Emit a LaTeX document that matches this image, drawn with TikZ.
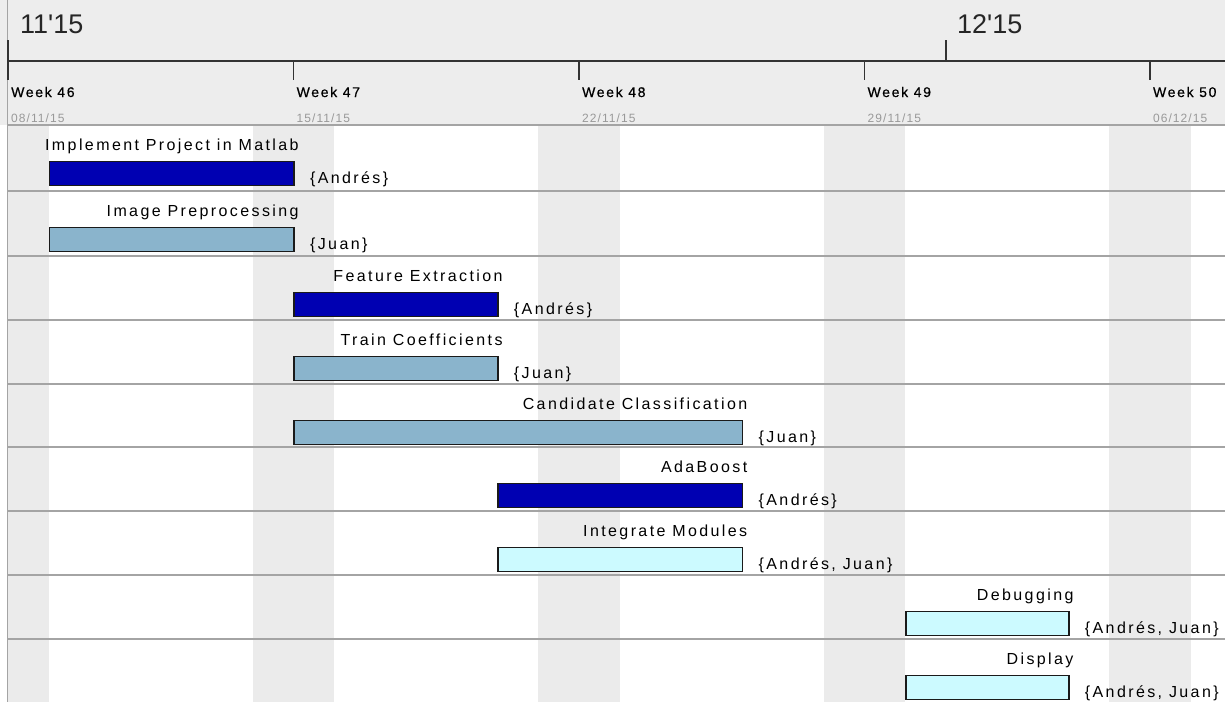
\documentclass[tikz,border=0pt]{standalone}
\usepackage{fontspec}
\setmainfont{Liberation Sans}
\newfontfamily\taskfont[LetterSpace=15]{Liberation Sans}
\newfontfamily\weekfont[LetterSpace=12,FakeBold=0.6]{Liberation Sans}
\newfontfamily\datefont[LetterSpace=9]{Liberation Sans}
\newfontfamily\monthfont[Ligatures=TeXOff]{Liberation Sans}
\usetikzlibrary{calc}
\definecolor{headerbg}{HTML}{EDEDED}
\definecolor{weekendbg}{HTML}{EBEBEB}
\definecolor{rowline}{HTML}{A4A4A4}
\definecolor{axisc}{HTML}{333333}
\definecolor{datec}{HTML}{999999}
\definecolor{barDark}{RGB}{0,0,178}
\definecolor{barSteel}{RGB}{138,180,204}
\definecolor{barCyan}{RGB}{204,250,255}
\definecolor{barEdge}{HTML}{1A1A1A}
\tikzset{
  taskbar/.style={draw=barEdge, line width=1.4pt, inner sep=0pt, minimum height=24pt, anchor=north west},
  tasklabel/.style={anchor=base east, inner sep=0pt, font=\taskfont\fontsize{16}{18}\selectfont, text=black},
  reslabel/.style={anchor=base west, inner sep=0pt, font=\taskfont\fontsize{16}{18}\selectfont, text=black},
  weeklabel/.style={anchor=base west, inner sep=0pt, font=\weekfont\fontsize{14}{16}\selectfont, text=black},
  datelabel/.style={anchor=base west, inner sep=0pt, font=\datefont\fontsize{12}{14}\selectfont, text=datec},
  monthlabel/.style={anchor=base west, inner sep=0pt, font=\monthfont\fontsize{27}{30}\selectfont, text=black!85},
  sepline/.style={draw=rowline, line width=1.3pt},
  axisline/.style={draw=axisc, line width=1.4pt}
}
\newcommand\gtask[7]{%
  \node[taskbar, fill=#5, minimum width={(#3-#2)*40.78pt}] (#1) at ({8+#2*40.78}, {#4+35.5}) {};
  \node[tasklabel] (#1-name) at ($(#1.north east)+(4,-10)$) {#6};
  \node[reslabel] (#1-res) at ($(#1.south east)+(15,-2)$) {#7};
}
\begin{document}
\begin{tikzpicture}[x=1pt,y=-1pt]
\useasboundingbox (0,0) rectangle (1225,702);
\fill[white] (0,0) rectangle (1225,702);
% header
\fill[headerbg] (0,0) rectangle (1225,125);
% weekends
\foreach \a/\b in {0/1,6/8,13/15,20/22,27/29}
  \fill[weekendbg] ({8+\a*40.78},126) rectangle ({8+\b*40.78},702);
% left border
\draw[draw=rowline, line width=1pt] (7.5,0) -- (7.5,702);
% header bottom and row separators
\foreach \y in {125,191,256,320,384,447,511,575,639}
  \draw[sepline] (8,\y) -- (1225,\y);
% axis
\coordinate (axL) at (8,61);
\coordinate (axR) at (1225,61);
\draw[axisline] (axL) -- (axR);
\draw[axisline] (8,40) -- (8,80);
\draw[axisline] ({8+23*40.78},40) -- ({8+23*40.78},61);
\foreach \w in {7,14,21,28}
  \draw[axisline] ({8+\w*40.78},61) -- ({8+\w*40.78},80);
\node[weeklabel] (w46) at (11,97) {Week 46};
\node[weeklabel] (w47) at ({11+7*40.78},97) {Week 47};
\node[weeklabel] (w48) at ({11+14*40.78},97) {Week 48};
\node[weeklabel] (w49) at ({11+21*40.78},97) {Week 49};
\node[weeklabel] (w50) at ({11+28*40.78},97) {Week 50};
\node[datelabel] (d46) at (11,122) {08/11/15};
\node[datelabel] (d47) at ({11+7*40.78},122) {15/11/15};
\node[datelabel] (d48) at ({11+14*40.78},122) {22/11/15};
\node[datelabel] (d49) at ({11+21*40.78},122) {29/11/15};
\node[datelabel] (d50) at ({11+28*40.78},122) {06/12/15};
\node[monthlabel] (m11) at (20,33) {11'15};
\node[monthlabel] (m12) at (957,33) {12'15};
% tasks
\gtask{impl}{1}{7}{125}{barDark}{Implement Project in Matlab}{\{Andrés\}}
\gtask{prep}{1}{7}{191}{barSteel}{Image Preprocessing}{\{Juan\}}
\gtask{feat}{7}{12}{256}{barDark}{Feature Extraction}{\{Andrés\}}
\gtask{train}{7}{12}{320}{barSteel}{Train Coefficients}{\{Juan\}}
\gtask{cand}{7}{18}{384}{barSteel}{Candidate Classification}{\{Juan\}}
\gtask{ada}{12}{18}{447}{barDark}{AdaBoost}{\{Andrés\}}
\gtask{integ}{12}{18}{511}{barCyan}{Integrate Modules}{\{Andrés, Juan\}}
\gtask{debug}{22}{26}{575}{barCyan}{Debugging}{\{Andrés, Juan\}}
\gtask{disp}{22}{26}{639}{barCyan}{Display}{\{Andrés, Juan\}}
\end{tikzpicture}
\end{document}
